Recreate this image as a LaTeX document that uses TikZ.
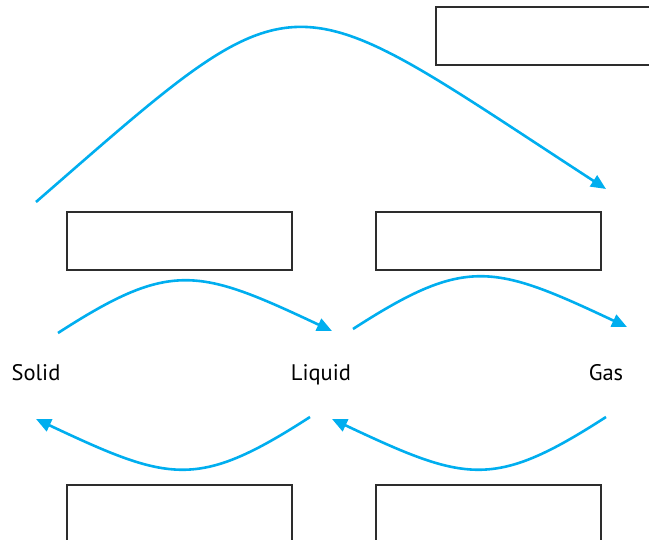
\documentclass[tikz,border=0pt]{standalone}
\usepackage{fontspec}
\setmainfont{PT Sans}
\usetikzlibrary{arrows.meta, positioning}

\definecolor{phasecyan}{RGB}{0,174,239}
\definecolor{boxgrey}{RGB}{45,45,45}

\begin{document}
\begin{tikzpicture}[x=1pt, y=1pt, node distance=285pt, on grid,
    font=\fontsize{22.5}{26}\selectfont]
        \tikzset{answer/.style={draw=boxgrey, line width=1.3pt, minimum width=225pt,
            minimum height=58pt, inner sep=0pt}}
        % Define attributes for the state labels and the change arrows
        \tikzstyle{phase}=[text height=1.5ex, text depth=.3ex, inner sep=0pt]
        \tikzstyle{change}=[draw=phasecyan, line width=2.6pt,
            -{Triangle[length=15pt,width=13pt]}]

        \useasboundingbox (0,0) rectangle (649,540);
        \clip (0,0) rectangle (649,540);

        \node[phase] (solid) at (36,162) {Solid};
        \node[phase] (liquid) [right=of solid] {Liquid};
        \node[phase] (gas) [right=of liquid] {Gas};

        \node[answer] (b_top) at (548.5,504) {};
        \node[answer] (b_melt) at (179.5,299) {};
        \node[answer] (b_boil) at (488.5,299) {};
        \node[answer] (b_freeze) at (179.5,26) {};
        \node[answer] (b_cond) at (488.5,26) {};

        \coordinate (sg_out) at (36,338);
        \coordinate (sg_in) at (606,351);
        \coordinate (sl_out) at (58,207);
        \coordinate (sl_in) at (332,209);
        \coordinate (lg_out) at (353,211);
        \coordinate (lg_in) at (627,213);
        \coordinate (ls_out) at (310,123);
        \coordinate (ls_in) at (36,121);
        \coordinate (gl_out) at (606,123);
        \coordinate (gl_in) at (332,121);

        \draw[change] (sg_out) .. controls (306,573) and (280,563) .. (sg_in);
        \draw[change] (sl_out) .. controls (171,280) and (198,272) .. (sl_in);
        \draw[change] (lg_out) .. controls (466,284) and (493,276) .. (lg_in);
        \draw[change] (ls_out) .. controls (197,50) and (170,58) .. (ls_in);
        \draw[change] (gl_out) .. controls (493,50) and (466,58) .. (gl_in);
\end{tikzpicture}
\end{document}
